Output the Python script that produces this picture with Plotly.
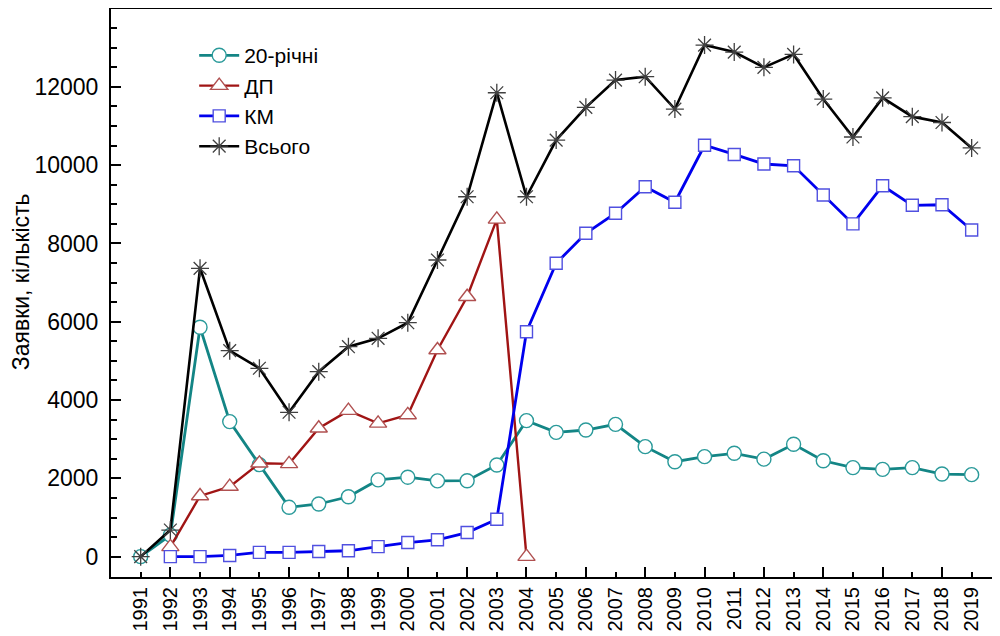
import plotly.graph_objects as go

years = list(range(1991, 2020))

# 20-річні
teal_years = years
teal_vals = [0, 550, 5860, 3450, 2350, 1260, 1345, 1530, 1960, 2030, 1935, 1940, 2340,
             3475, 3175, 3235, 3380, 2810, 2425, 2555, 2640, 2490, 2870, 2450, 2275,
             2230, 2275, 2110, 2095]

# ДП
dp_years = list(range(1992, 2005))
dp_vals = [250, 1550, 1790, 2385, 2370, 3280, 3730, 3405, 3620, 5280, 6640, 8617, 0]

# КМ
km_years = list(range(1992, 2020))
km_vals = [0, 0, 30, 110, 110, 130, 150, 255, 360, 430, 615, 955, 5745, 7495, 8262,
           8772, 9450, 9053, 10510, 10275, 10030, 9985, 9240, 8500, 9475, 8975, 8990, 8345]

# Всього
total_years = years
total_vals = [0, 680, 7366, 5262, 4812, 3688, 4725, 5363, 5578, 5976, 7578, 9194, 11851,
              9194, 10642, 11478, 12175, 12260, 11434, 13069, 12890, 12500, 12830, 11690,
              10720, 11720, 11240, 11090, 10440]

y_ticks = [0, 2000, 4000, 6000, 8000, 10000, 12000]
y_ticktext = [str(v) for v in y_ticks]

names = ["20-річні", "ДП", "КМ", "Всього"]
y_title = "Заявки, кількість"

FONT = "Liberation Sans, Arial, sans-serif"

# the page body adds an 8px offset, so margins are shifted to compensate
ML, MT, MR, MB = 103, 1, 12, 67
PW = 1000 - ML - MR

fig = go.Figure()
fig.add_trace(go.Scatter(
    x=teal_years, y=teal_vals, name=names[0], mode="lines+markers",
    line=dict(color="#138585", width=2.8),
    marker=dict(symbol="circle", size=14, color="white",
                line=dict(color="#2a9a9a", width=1.4)),
))
fig.add_trace(go.Scatter(
    x=dp_years, y=dp_vals, name=names[1], mode="lines+markers",
    line=dict(color="#a01414", width=2.4),
    marker=dict(symbol="triangle-up", size=15, color="white",
                line=dict(color="#b05050", width=1.4)),
))
fig.add_trace(go.Scatter(
    x=km_years, y=km_vals, name=names[2], mode="lines+markers",
    line=dict(color="#0000ee", width=2.8),
    marker=dict(symbol="square", size=12, color="white",
                line=dict(color="#5050e0", width=1.4)),
))
fig.add_trace(go.Scatter(
    x=total_years, y=total_vals, name=names[3], mode="lines+markers",
    line=dict(color="#000000", width=2.6),
    marker=dict(symbol="asterisk-open", size=15, color="#404040",
                line=dict(color="#404040", width=1.3)),
))

fig.update_layout(
    width=1000, height=636,
    paper_bgcolor="white", plot_bgcolor="white",
    margin=dict(l=ML, r=MR, t=MT, b=MB, autoexpand=False),
    font=dict(family=FONT, color="black"),
    showlegend=True,
    legend=dict(
        x=0.094, y=0.954, xanchor="left", yanchor="top",
        bgcolor="rgba(255,255,255,0)", borderwidth=0,
        font=dict(size=21, family=FONT, color="black"),
        tracegroupgap=0, itemwidth=40,
    ),
    annotations=[dict(
        text=y_title, textangle=-90, x=(13 - ML) / PW, xref="paper", xanchor="center",
        y=0.519, yref="paper", yanchor="middle", showarrow=False,
        font=dict(size=23, family=FONT, color="black"),
    )],
)

fig.update_xaxes(
    range=[1990.0, 2019.82], automargin=False,
    tickmode="array", tickvals=years, ticktext=[str(y) for y in years],
    tickangle=-90, tickfont=dict(size=20, family=FONT, color="black"),
    ticks="inside", ticklen=5, tickwidth=1.5, tickcolor="black",
    minor=dict(tickmode="array", tickvals=[y for y in years if y % 2 == 0],
               ticks="inside", ticklen=10, tickwidth=1.5, tickcolor="black"),
    showline=True, linecolor="black", linewidth=2, mirror=True,
    showgrid=False, zeroline=False, ticklabelstandoff=0,
)
fig.update_yaxes(
    range=[-520, 13990], automargin=False,
    tickmode="array", tickvals=y_ticks, ticktext=y_ticktext,
    tickfont=dict(size=23, family=FONT, color="black"),
    ticks="inside", ticklen=10, tickwidth=1.5, tickcolor="black",
    minor=dict(tickmode="array",
               tickvals=[v for v in range(0, 14000, 500) if v % 2000 != 0],
               ticks="inside", ticklen=6, tickwidth=1.5, tickcolor="black"),
    showline=True, linecolor="black", linewidth=2, mirror=True,
    showgrid=False, zeroline=False, ticklabelstandoff=6,
)

fig.write_html("out.html")
